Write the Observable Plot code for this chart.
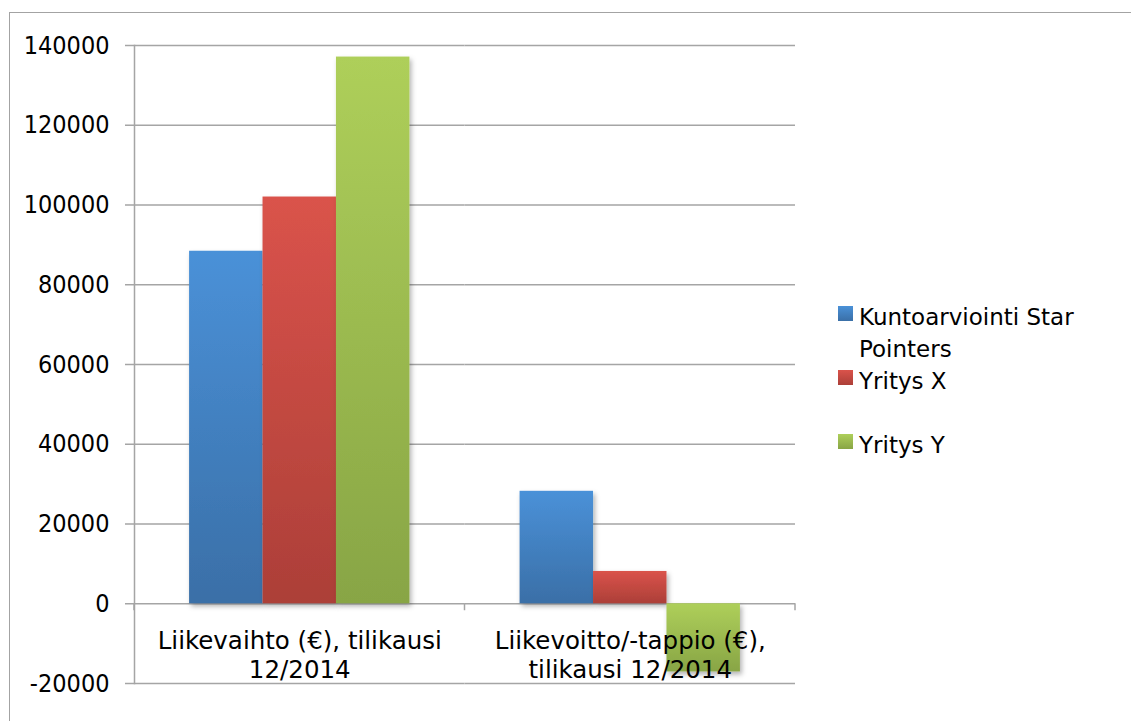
<!DOCTYPE html>
<html><head><meta charset="utf-8">
<script src="https://cdn.jsdelivr.net/npm/d3@7"></script>
<script src="https://cdn.jsdelivr.net/npm/@observablehq/plot@0.6"></script>
<style>
html,body{margin:0;padding:0;background:#fff;overflow:hidden;}
#wrap{position:relative;width:1131px;height:721px;overflow:hidden;}
#border{position:absolute;left:9px;top:12px;width:1400px;height:900px;border:1.5px solid #a3a3a3;box-sizing:border-box;}
#chart{position:absolute;left:0;top:0;}
.leg{position:absolute;left:838px;font-family:'DejaVu Sans',sans-serif;font-size:23px;line-height:32px;color:#000;}
.leg .sw{position:absolute;left:0;width:15px;height:15px;}
.leg .tx{position:absolute;left:21px;white-space:nowrap;}
</style>
</head><body>
<div id="wrap"><div id="border"></div><div id="chart"></div><div id="legend"></div></div>
<script>
const categories = ["Liikevaihto (€), tilikausi 12/2014", "Liikevoitto/-tappio (€), tilikausi 12/2014"];
const categoryLabels = ["Liikevaihto (€), tilikausi\n12/2014", "Liikevoitto/-tappio (€),\ntilikausi 12/2014"];
const series = ["Kuntoarviointi Star Pointers", "Yritys X", "Yritys Y"];
const legendLabels = ["Kuntoarviointi Star\nPointers", "Yritys X", "Yritys Y"];
const starPointers = [88400, 28200];
const yritysX = [102000, 8100];
const yritysY = [137100, -17100];
const yTicks = [-20000, 0, 20000, 40000, 60000, 80000, 100000, 120000, 140000];
const gradColors = [["#4a91d8", "#3a6fa7"], ["#da534b", "#ac3f38"], ["#aecf5a", "#88a545"]];

const seriesValues = [starPointers, yritysX, yritysY];
const rows = [];
categories.forEach((c, ci) => series.forEach((s, si) => rows.push({category: c, series: s, value: seriesValues[si][ci]})));

const plot = Plot.plot({
  width: 1131, height: 721,
  marginLeft: 134, marginRight: 336, marginTop: 45, marginBottom: 38,
  style: {fontFamily: "'DejaVu Sans', sans-serif", fontSize: "24px", color: "#000", background: "transparent"},
  fx: {domain: categories, padding: 0, axis: null, round: false},
  x: {domain: series, paddingInner: 0, paddingOuter: 0.75, axis: null, round: false},
  y: {domain: [-20000, 140000], axis: null},
  color: {domain: series, range: series.map((_, i) => `url(#grad${i})`)},
  marks: [
    Plot.ruleY(yTicks, {stroke: "#a5a5a5", strokeWidth: 1.5}),
    Plot.barY(rows, {fx: "category", x: "series", y: "value", fill: "series", inset: 0}),
    Plot.text(categories, {fx: d => d, y: 0, text: (d, i) => categoryLabels[i], lineAnchor: "top", dy: 25, fontSize: 24.5, lineHeight: 1.18, fill: "#000"}),
    Plot.axisY({ticks: yTicks, tickSize: 9, tickPadding: 16, fontSize: 25, stroke: "#a5a5a5", strokeWidth: 1.5, tickFormat: d => String(d), label: null, fontFamily: "'DejaVu Sans Condensed', 'DejaVu Sans', sans-serif", fontStretch: "condensed"}),
    Plot.frame({anchor: "left", facetAnchor: "left", stroke: "#a5a5a5", strokeWidth: 1.5})
  ]
});
document.getElementById("chart").appendChild(plot);

const svg = d3.select(plot);
const defs = svg.insert("defs", ":first-child");
gradColors.forEach(([top, bottom], i) => {
  const g = defs.append("linearGradient").attr("id", `grad${i}`).attr("x1", 0).attr("y1", 0).attr("x2", 0).attr("y2", 1);
  g.append("stop").attr("offset", "0%").attr("stop-color", top);
  g.append("stop").attr("offset", "100%").attr("stop-color", bottom);
});
const f = defs.append("filter").attr("id", "shadow").attr("x", "-30%").attr("y", "-30%").attr("width", "160%").attr("height", "160%");
f.append("feDropShadow").attr("dx", 2).attr("dy", 3).attr("stdDeviation", 2.5).attr("flood-color", "#000").attr("flood-opacity", 0.3);
svg.selectAll("rect").filter(function () { return (this.getAttribute("fill") || "").startsWith("url("); }).attr("filter", "url(#shadow)");

const fx = plot.scale("fx"), ys = plot.scale("y");
const y0 = ys.apply(0);
const edges = categories.map(c => fx.apply(c)).concat([fx.apply(categories[categories.length - 1]) + fx.bandwidth]);
svg.append("g").selectAll("line").data(edges).join("line")
  .attr("x1", d => d).attr("x2", d => d).attr("y1", y0).attr("y2", y0 + 7)
  .attr("stroke", "#a5a5a5").attr("stroke-width", 1.5);

const legendTops = [301, 365, 429];
const legend = document.getElementById("legend");
series.forEach((s, i) => {
  const item = document.createElement("div");
  item.className = "leg";
  item.style.top = legendTops[i] + "px";
  const sw = document.createElement("div");
  sw.className = "sw";
  sw.style.top = "5px";
  sw.style.background = `linear-gradient(${gradColors[i][0]}, ${gradColors[i][1]})`;
  const tx = document.createElement("div");
  tx.className = "tx";
  tx.innerHTML = legendLabels[i].split("\n").join("<br>");
  item.appendChild(sw); item.appendChild(tx);
  legend.appendChild(item);
});
</script>
</body></html>
